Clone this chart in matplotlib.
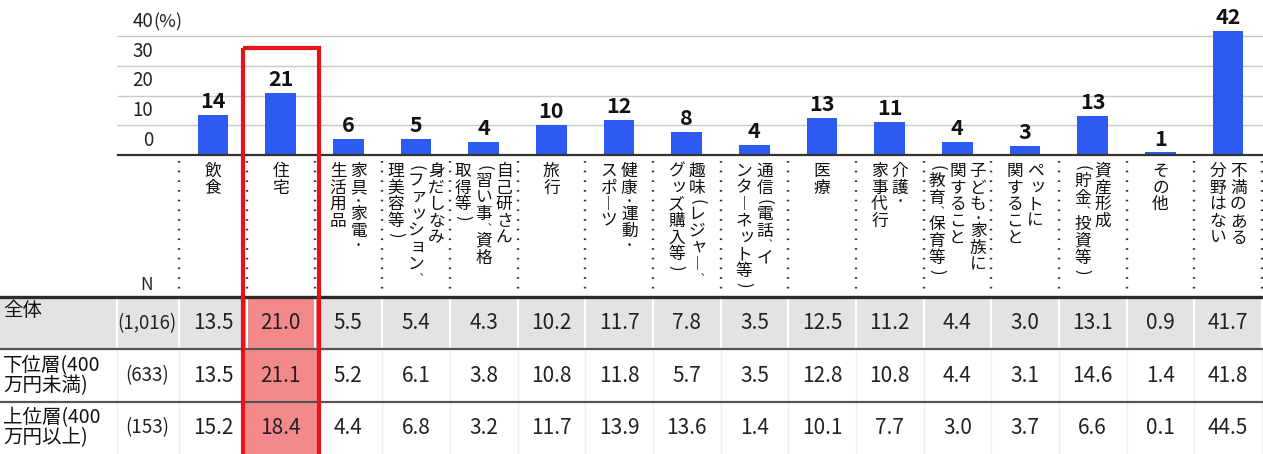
"""
分野別の不満（全体・所得層別）の棒グラフ＋集計表。
"""

import numpy as np
import matplotlib
matplotlib.use("Agg")
import matplotlib.pyplot as plt
from matplotlib.patches import Rectangle

plt.rcParams["font.family"] = ["Noto Sans CJK JP", "DejaVu Sans"]

# ---- データ ----
CATEGORIES = [
    "飲食", "住宅", "家具・家電・\n生活用品", "身だしなみ\n(ファッション、\n理美容等)",
    "自己研さん\n(習い事、資格\n取得等)", "旅行", "健康・運動・\nスポーツ",
    "趣味(レジャー、\nグッズ購入等)", "通信(電話、イ\nンターネット等)", "医療",
    "介護・\n家事代行", "子ども・家族に\n関すること\n(教育、保育等)",
    "ペットに\n関すること", "資産形成\n(貯金、投資等)", "その他", "不満のある\n分野はない",
]
ALL = [13.5, 21.0, 5.5, 5.4, 4.3, 10.2, 11.7, 7.8, 3.5, 12.5, 11.2, 4.4, 3.0, 13.1, 0.9, 41.7]
LOW = [13.5, 21.1, 5.2, 6.1, 3.8, 10.8, 11.8, 5.7, 3.5, 12.8, 10.8, 4.4, 3.1, 14.6, 1.4, 41.8]
HIGH = [15.2, 18.4, 4.4, 6.8, 3.2, 11.7, 13.9, 13.6, 1.4, 10.1, 7.7, 3.0, 3.7, 6.6, 0.1, 44.5]
ROW_LABELS = ["全体", "下位層(400\n万円未満)", "上位層(400\n万円以上)"]
ROW_N = ["(1,016)", "(633)", "(153)"]
Y_TICKS = [0, 10, 20, 30, 40]
HIGHLIGHT = "住宅"

BLUE = "#2D5BF2"
RED = "#E8121C"
PINK = "#F4898B"
GRAY_ROW = "#E3E3E3"

# 縦書き用: 括弧は回転、句読点・中黒は半角送り
VERT = {"、": "︑", "ー": "︱", "・": "•"}
ROTATE = set("()")
HALF = set("・、()")
SMALL = set("ァッョャュぁっゃゅょ")

fig = plt.figure(figsize=(12.63, 4.54), dpi=100)
W, H = 1263, 454
x0_px, pitch_px = 213, 67.67
xlim = (-x0_px / pitch_px, (W - x0_px) / pitch_px)
base_px = 155
unit_px = 2.975

# ---- 棒グラフ ----
ax = fig.add_axes([0, (H - base_px) / H, 1, base_px / H])
ax.set_xlim(*xlim)
ax.set_ylim(0, base_px / unit_px)
ax.set_axis_off()

grid_xmin = 118 / W
for t in Y_TICKS[1:]:
    ax.axhline(t, xmin=grid_xmin, xmax=1, color="#C9C9C9", lw=1.0, zorder=0)
ax.axhline(0, xmin=grid_xmin, xmax=1, color="#333333", lw=1.6, zorder=3, clip_on=False)

x = np.arange(len(CATEGORIES))
bars = ax.bar(x, ALL, width=0.45, color=BLUE, zorder=2)
for xi, v in zip(x, ALL):
    ax.annotate(str(int(np.floor(v + 0.5))), (xi, v), xytext=(0, 2),
                textcoords="offset points", ha="center", va="bottom",
                fontsize=15.5, fontweight="bold", color="#111111")

tick_x = (153 - x0_px) / pitch_px
for t in Y_TICKS:
    ax.annotate(str(t), (tick_x, t), xytext=(0, 3), textcoords="offset points",
                ha="right", va="bottom", fontsize=13.5, color="#222222")
ax.annotate("(%)", (tick_x, Y_TICKS[-1]), xytext=(0, 3), textcoords="offset points",
            ha="left", va="bottom", fontsize=13, color="#222222")

# ---- 表・ラベル部分 ----
row_top_px = 297
row_h_px = (H - row_top_px) / 3
tab = fig.add_axes([0, 0, 1, (H - base_px) / H])
tab.set_xlim(*xlim)
tab.set_ylim(3, -(row_top_px - base_px) / row_h_px)
tab.set_axis_off()

hi = CATEGORIES.index(HIGHLIGHT)
label_edge = (117 - x0_px) / pitch_px
n_x = (147 - x0_px) / pitch_px

# 背景
tab.add_patch(Rectangle((xlim[0], 0), xlim[1] - xlim[0], 1, color=GRAY_ROW, zorder=0))
tab.add_patch(Rectangle((hi - 0.55, 0), 1.1, 3.2, color=PINK, zorder=1))

# 区切り線
seps = [label_edge] + [i - 0.5 for i in range(len(CATEGORIES) + 1)]
for s in seps:
    tab.plot([s, s], [0, 1], color="white", lw=1.5, zorder=1.5)
    tab.plot([s, s], [1, 3], color="#EFEFEF", lw=1.0, zorder=0.5)
tab.axhline(0, color="#2B2B2B", lw=2.4, zorder=3)
for r in (1, 2):
    tab.axhline(r, color="#555555", lw=1.6, zorder=3)

# 点線（見出し）
top_y = tab.get_ylim()[1]
for i in range(len(CATEGORIES) + 1):
    tab.plot([i - 0.5, i - 0.5], [top_y + 0.12, -0.08], color="#333333", lw=1.7,
             linestyle=(0, (0.7, 3.4)), zorder=2)

tab.text(n_x, -0.23, "N", ha="center", va="center", fontsize=12.5, color="#222222")


def vertical_text(axis, xc, yc, text, fs=12, col_gap=14.8):
    cols = text.split("\n")
    n = len(cols)
    for k, col in enumerate(cols):
        dx = ((n - 1) / 2 - k) * col_gap
        dy = 0.0
        for ch in col:
            adv = fs * 0.6 if ch in HALF else fs
            size, rot, sx, sy = fs, 0, 0, 0
            if ch in SMALL:
                sx, sy = fs * 0.12, fs * 0.1
            if ch in ROTATE:
                rot = -90
            elif ch in HALF:
                size = fs * 0.58
                if ch == "、":
                    sx = fs * 0.15
            axis.annotate(VERT.get(ch, ch), (xc, yc), xytext=(dx + sx, -(dy + adv / 2) + sy),
                          textcoords="offset points", ha="center", va="center",
                          rotation=rot, fontsize=size, color="#111111", zorder=4)
            dy += adv


label_top = top_y + (163 - base_px) / row_h_px
for i, c in enumerate(CATEGORIES):
    vertical_text(tab, i, label_top, c)

# 表の値
for r, (lab, n, vals) in enumerate(zip(ROW_LABELS, ROW_N, [ALL, LOW, HIGH])):
    if "\n" in lab:
        tab.text(xlim[0] + 0.05, r + 0.5, lab, ha="left", va="center", fontsize=14,
                 linespacing=0.95, color="#111111", zorder=4)
    else:
        tab.text(xlim[0] + 0.05, r + 0.06, lab, ha="left", va="top", fontsize=14,
                 color="#111111", zorder=4)
    tab.text(n_x, r + 0.5, n, ha="center", va="center", fontsize=13.5,
             color="#222222", zorder=4)
    for i, v in enumerate(vals):
        tab.text(i, r + 0.5, f"{v:.1f}", ha="center", va="center", fontsize=15,
                 color="#222222", zorder=4)

# 強調枠（グラフ上部から表の下端まで）
box_top = top_y - (base_px - 48) / row_h_px
tab.add_patch(Rectangle((hi - 0.56, box_top), 1.12, 3.3 - box_top, fill=False,
                        edgecolor=RED, lw=3, zorder=5, clip_on=False))

fig.savefig("out.png", dpi=100)
plt.close(fig)
